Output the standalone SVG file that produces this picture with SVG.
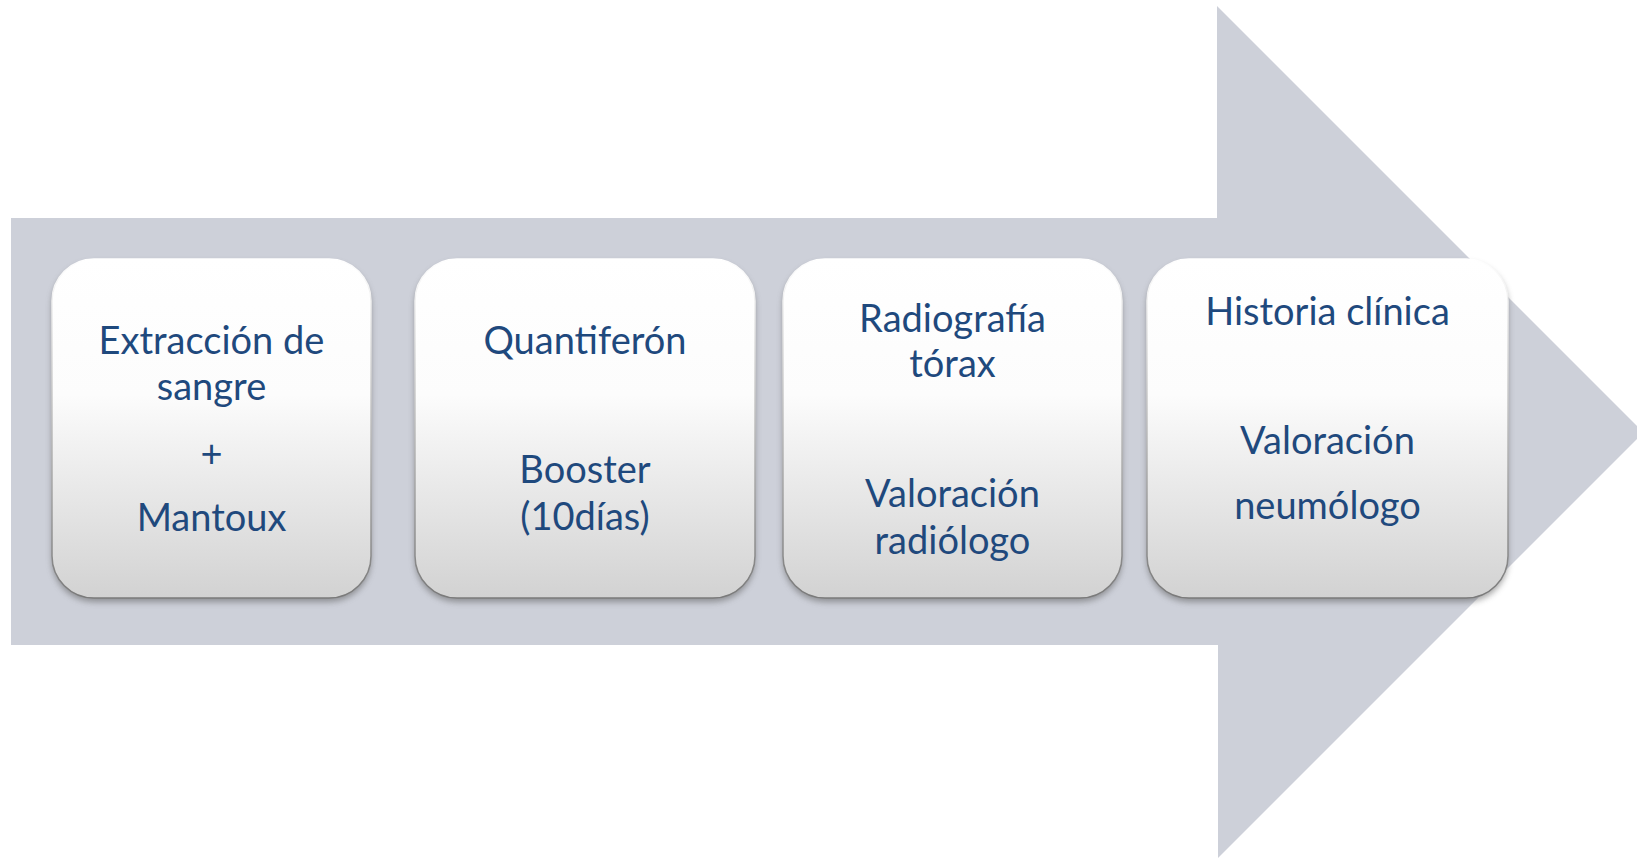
<svg xmlns="http://www.w3.org/2000/svg" width="1637" height="858" viewBox="0 0 1637 858">
<style>
.lbl{font-family:Lato,"Liberation Sans",sans-serif;font-size:38px;fill:#1F497D;text-anchor:middle}
.box{fill:url(#boxFill);stroke:url(#boxStroke);stroke-width:1.5}
.shadow{fill:#5a5a5a;opacity:0.55;filter:url(#blur)}
</style>
<defs>
<linearGradient id="boxFill" x1="0" y1="0" x2="0" y2="1">
<stop offset="0" stop-color="#FFFFFF"/>
<stop offset="0.4" stop-color="#FCFCFC"/>
<stop offset="1" stop-color="#D2D2D2"/>
</linearGradient>
<linearGradient id="boxStroke" x1="0" y1="0" x2="0" y2="1">
<stop offset="0" stop-color="#FFFFFF"/>
<stop offset="0.3" stop-color="#D8D8D8"/>
<stop offset="1" stop-color="#7A7A7A"/>
</linearGradient>
<filter id="blur" x="-10%" y="-10%" width="120%" height="120%">
<feGaussianBlur stdDeviation="3"/>
</filter>
</defs>
<rect width="1637" height="858" fill="#FFFFFF"/>
<g id="arrow">
<polygon points="11,218 1217,218 1217,6 1643.5,432.5 1218,858 1218,645 11,645" fill="#CDD0D9"/>
</g>
<g id="connectors"></g>
<g id="node1">
<rect class="shadow" x="52" y="263" width="319" height="339" rx="42"/>
<rect class="box" x="52" y="259" width="319" height="339" rx="42"/>
<text class="lbl" x="211.5" y="354">Extracción de</text>
<text class="lbl" x="211.5" y="400">sangre</text>
<text class="lbl" x="211.5" y="467">+</text>
<text class="lbl" x="211.5" y="531">Mantoux</text>
</g>
<g id="node2">
<rect class="shadow" x="415" y="263" width="340" height="339" rx="42"/>
<rect class="box" x="415" y="259" width="340" height="339" rx="42"/>
<text class="lbl" x="585" y="354">Quantiferón</text>
<text class="lbl" x="585" y="483">Booster</text>
<text class="lbl" x="585" y="530">(10días)</text>
</g>
<g id="node3">
<rect class="shadow" x="783" y="263" width="339" height="339" rx="42"/>
<rect class="box" x="783" y="259" width="339" height="339" rx="42"/>
<text class="lbl" x="952.5" y="332">Radiografía</text>
<text class="lbl" x="952.5" y="377">tórax</text>
<text class="lbl" x="952.5" y="507">Valoración</text>
<text class="lbl" x="952.5" y="554">radiólogo</text>
</g>
<g id="node4">
<rect class="shadow" x="1147" y="263" width="361" height="339" rx="42"/>
<rect class="box" x="1147" y="259" width="361" height="339" rx="42"/>
<text class="lbl" x="1327.5" y="325">Historia clínica</text>
<text class="lbl" x="1327.5" y="454">Valoración</text>
<text class="lbl" x="1327.5" y="519">neumólogo</text>
</g>
</svg>
